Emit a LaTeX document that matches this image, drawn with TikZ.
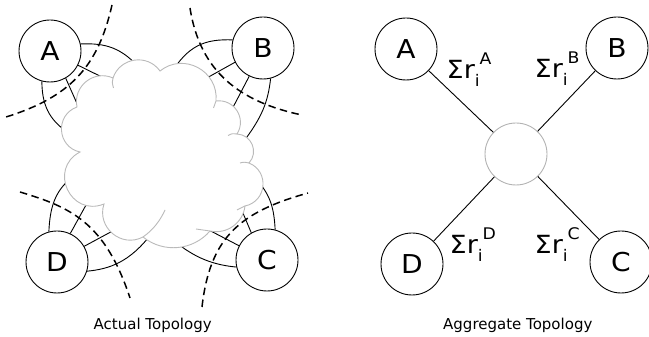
\documentclass[tikz,border=0pt]{standalone}
\usepackage{fontspec}
\setmainfont{DejaVu Sans}
\newfontfamily\widefont{DejaVu Sans}[FakeStretch=1.08]
\newcommand{\sumlab}[1]{Σr\raisebox{-8.4pt}{\fontsize{16}{16}\selectfont i}\raisebox{13.3pt}{\fontsize{16}{16}\selectfont #1}}
\begin{document}
\begin{tikzpicture}[x=1pt,y=1pt,
  nd/.style={circle,draw,line width=0.9pt,minimum size=62pt,inner sep=0pt,font=\widefont\fontsize{26}{26}\selectfont},
  hub/.style={circle,draw=black!30,line width=0.9pt,minimum size=62pt,inner sep=0pt},
  link/.style={line width=0.9pt},
  cut/.style={dash pattern=on 7.5pt off 4.5pt,line width=1.5pt},
  cloudline/.style={draw=black!27,line width=0.9pt,fill=white},
  hookline/.style={draw=black!27,line width=0.9pt},
  lab/.style={inner sep=0pt,anchor=base west,font=\widefont\fontsize{25}{25}\selectfont},
  capt/.style={inner sep=0pt,anchor=base,font=\fontsize{15}{15}\selectfont}]
\useasboundingbox (0,0) rectangle (649,337);

% ---------- Actual topology ----------
\node[nd] (A) at (50,286) {A};
\node[nd] (B) at (263,289) {B};
\node[nd] (D) at (57,75) {D};
\node[nd] (C) at (267,77) {C};

\coordinate (a1e) at (142,266);
\coordinate (a2e) at (110,256);
\coordinate (a3e) at (79,229);
\coordinate (a4e) at (70,203);
\coordinate (b1e) at (170,262);
\coordinate (b2e) at (205,258);
\coordinate (b3e) at (229,222);
\coordinate (b4e) at (244,196);
\coordinate (d1e) at (70,158);
\coordinate (d2e) at (91,141);
\coordinate (d3e) at (120,110);
\coordinate (d4e) at (152,104);
\coordinate (c1e) at (257,157);
\coordinate (c2e) at (240,131);
\coordinate (c3e) at (205,109);
\coordinate (c4e) at (172,98);

\draw[link] (A.13) .. controls (105,294) and (122,290) .. (a1e);
\draw[link] (A.-27) -- (a2e);
\draw[link] (A.-60) -- (a3e);
\draw[link] (A.-105) .. controls (42,228) and (52,215) .. (a4e);

\draw[link] (B.165) .. controls (205,298) and (188,292) .. (b1e);
\draw[link] (B.-153) -- (b2e);
\draw[link] (B.-116) -- (b3e);
\draw[link] (B.-76) .. controls (268,235) and (262,220) .. (b4e);

\draw[link] (D.105) .. controls (50,130) and (55,145) .. (d1e);
\draw[link] (D.65) -- (d2e);
\draw[link] (D.30) -- (d3e);
\draw[link] (D.-17) .. controls (110,68) and (130,75) .. (d4e);

\draw[link] (C.75) .. controls (274,130) and (270,142) .. (c1e);
\draw[link] (C.120) -- (c2e);
\draw[link] (C.153) -- (c3e);
\draw[link] (C.-167) .. controls (215,72) and (195,78) .. (c4e);

% cloud
\path[cloudline] (113,259) to[bend left=63,looseness=1.17] (160,266)
  to[bend left=67,looseness=1.22] (216,236)
  to[bend left=65,looseness=1.2] (237,203)
  to[bend left=65,looseness=1.2] (249,174)
  to[bend left=73,looseness=1.32] (245,131)
  to[bend left=48,looseness=1.02] (210,106)
  to[bend left=44,looseness=0.99] (143,100)
  to[bend left=68,looseness=1.23] (104,133)
  to[bend left=87,looseness=1.62] (80,185)
  to[bend left=74,looseness=1.34] (77,230)
  to[bend left=63,looseness=1.17] (113,259) -- cycle;
\draw[hookline] (113,259) .. controls (112,255) .. (113.5,249);
\draw[hookline] (216,236) .. controls (215.5,232) .. (213.5,229);
\draw[hookline] (237,203) .. controls (232,203.5) .. (228,201.5);
\draw[hookline] (249,174) .. controls (244,175) .. (240,174);
\draw[hookline] (245,131) .. controls (241,129.5) .. (237,127);
\draw[hookline] (210,106) .. controls (203,107.5) .. (196,108);
\draw[hookline] (143,100) .. controls (153,107) and (160,116) .. (165,127);

% cut lines
\draw[cut] (112,332) .. controls (98,270) and (70,240) .. (6,220);
\draw[cut] (190,329) .. controls (200,265) and (240,235) .. (302,222);
\draw[cut] (20,145) .. controls (70,130) and (105,115) .. (130,39);
\draw[cut] (202,30) .. controls (210,100) and (240,125) .. (308,144);

\node[capt] (cap1) at (152.7,7.7) {Actual Topology};

% ---------- Aggregate topology ----------
\node[nd] (A2) at (406,288) {A};
\node[nd] (B2) at (617,289) {B};
\node[nd] (D2) at (412,73) {D};
\node[nd] (C2) at (621,75) {C};
\node[hub] (M) at (516,183) {};

\draw[link] (A2) -- (M);
\draw[link] (B2) -- (M);
\draw[link] (D2) -- (M);
\draw[link] (C2) -- (M);

\node[lab] (LA) at (446.5,258.7) {\sumlab{A}};
\node[lab] (LB) at (534.5,259.7) {\sumlab{B}};
\node[lab] (LD) at (449.5,83.7) {\sumlab{D}};
\node[lab] (LC) at (534.5,83.7) {\sumlab{C}};

\node[capt] (cap2) at (517.8,7.7) {Aggregate Topology};
\end{tikzpicture}
\end{document}
